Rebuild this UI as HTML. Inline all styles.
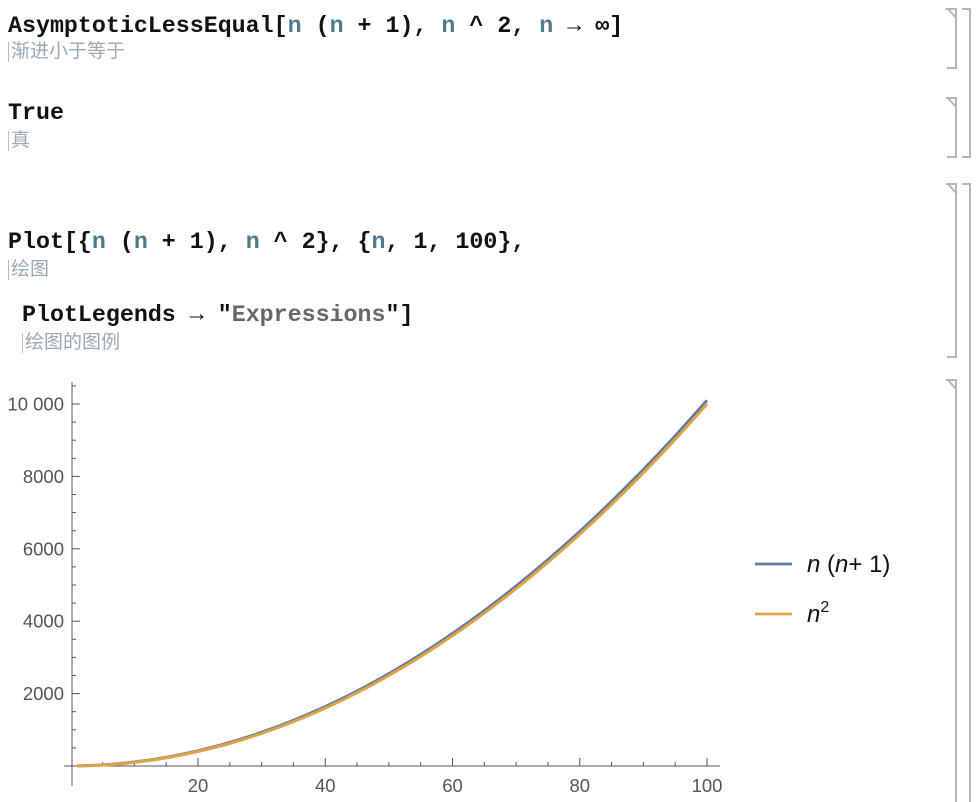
<!DOCTYPE html>
<html><head><meta charset="utf-8">
<style>
html,body{margin:0;padding:0;background:#fff;}
body{width:980px;height:802px;position:relative;overflow:hidden;font-family:"Liberation Sans","Noto Sans CJK SC",sans-serif;}
.code{position:absolute;font-family:"Liberation Mono","Noto Sans CJK SC",monospace;font-weight:bold;font-size:23.3px;color:#111;white-space:pre;letter-spacing:0px;}
.v{color:#4e7a8c;}
.s{color:#666;}
.ann{position:absolute;font-family:"Liberation Sans","Noto Sans CJK SC",sans-serif;font-size:19px;color:#9aa8b4;border-left:1px solid #bbb;padding-left:2px;line-height:20px;}
svg{position:absolute;left:0;top:0;}
</style></head><body>
<div class="code" style="left:8px;top:13px;">AsymptoticLessEqual[<span class="v">n</span> (<span class="v">n</span> + 1), <span class="v">n</span> ^ 2, <span class="v">n</span> → ∞]</div>
<div class="ann" style="left:8px;top:42px;">渐进小于等于</div>
<div class="code" style="left:8px;top:100px;">True</div>
<div class="ann" style="left:8px;top:131px;">真</div>
<div class="code" style="left:8px;top:229px;">Plot[{<span class="v">n</span> (<span class="v">n</span> + 1), <span class="v">n</span> ^ 2}, {<span class="v">n</span>, 1, 100},</div>
<div class="ann" style="left:8px;top:260px;">绘图</div>
<div class="code" style="left:22px;top:302px;">PlotLegends → "<span class="s">Expressions</span>"]</div>
<div class="ann" style="left:22px;top:333px;">绘图的图例</div>

<svg width="980" height="802" id="chart">
  <g id="brackets" stroke="#b5b5b5" stroke-width="2" fill="none">
    <path d="M946 9 L956 9 L956 68 L947 68 M948 9 L956 18"/>
    <path d="M946 98 L956 98 L956 157 L947 157 M948 98 L956 107"/>
    <path d="M962 9 L970 9 L970 157 L962 157"/>
    <path d="M946 184 L956 184 L956 357 L947 357 M948 184 L956 193"/>
    <path d="M962 184 L970 184 L970 802"/>
    <path d="M946 380 L956 380 L956 802 M948 380 L956 389"/>
  </g>
  <g id="axes"></g>
  <g id="series"></g>
  <g id="legend"></g>
</svg>
<script>
const categories = [1,5,10,15,20,25,30,35,40,45,50,55,60,65,70,75,80,85,90,95,100];
const seriesNN1 = [2,30,110,240,420,650,930,1260,1640,2070,2550,3080,3660,4290,4970,5700,6480,7310,8190,9120,10100];
const seriesN2 = [1,25,100,225,400,625,900,1225,1600,2025,2500,3025,3600,4225,4900,5625,6400,7225,8100,9025,10000];
const xTicks = [20,40,60,80,100];
const yTicks = [2000,4000,6000,8000,10000];
const yTickLabels = ["2000","4000","6000","8000","10 000"];

const NS="http://www.w3.org/2000/svg";
const x = v => 70.75 + v*6.3625;
const y = v => 766 - v*0.0362;
function mk(tag, attrs, parent){const e=document.createElementNS(NS,tag);for(const k in attrs)e.setAttribute(k,attrs[k]);parent.appendChild(e);return e;}
const axes=document.getElementById('axes');
const ax=mk('line',{x1:64,y1:766,x2:720,y2:766,stroke:'#555','stroke-width':1},axes);


const ay=mk('line',{x1:72,y1:382,x2:72,y2:786,stroke:'#555','stroke-width':1},axes);


for(let v=5;v<=100;v+=5){
  const major=xTicks.includes(v);
  const t=mk('line',{x1:x(v),x2:x(v),y1:766,y2:major?758:762,stroke:'#555','stroke-width':1},axes);
  
  
}
xTicks.forEach(v=>{
  const t=mk('text',{x:x(v),y:792,'text-anchor':'middle','font-size':18.5,fill:'#555','font-family':'Liberation Sans, sans-serif'},axes);
  t.textContent=v;
  
  
});
for(let v=500;v<=10500;v+=500){
  const major=yTicks.includes(v);
  const t=mk('line',{x1:72,x2:major?80:76,y1:y(v),y2:y(v),stroke:'#555','stroke-width':1},axes);
  
  
}
yTicks.forEach((v,i)=>{
  const t=mk('text',{x:64,y:y(v)+6.5,'text-anchor':'end','font-size':18.5,fill:'#555','font-family':'Liberation Sans, sans-serif'},axes);
  t.textContent=yTickLabels[i];
  
  
});
const series=document.getElementById('series');
function pathFor(vals){
  const p=categories.map((c,i)=>[x(c),y(vals[i])]);
  let d='M'+p[0][0]+' '+p[0][1];
  for(let i=0;i<p.length-1;i++){
    const p0=p[Math.max(0,i-1)],p1=p[i],p2=p[i+1],p3=p[Math.min(p.length-1,i+2)];
    d+=` C${p1[0]+(p2[0]-p0[0])/6} ${p1[1]+(p2[1]-p0[1])/6} ${p2[0]-(p3[0]-p1[0])/6} ${p2[1]-(p3[1]-p1[1])/6} ${p2[0]} ${p2[1]}`;
  }
  return d;
}
const l1=mk('path',{d:pathFor(seriesNN1),stroke:'#6179a8',fill:'none','stroke-width':3},series);


const l2=mk('path',{d:pathFor(seriesN2),stroke:'#dda446',fill:'none','stroke-width':3},series);



const lg=document.getElementById('legend');
const c1=mk('line',{x1:755,x2:792,y1:564,y2:564,stroke:'#6179a8','stroke-width':2.8},lg);


const c2=mk('line',{x1:755,x2:792,y1:614,y2:614,stroke:'#dda446','stroke-width':2.8},lg);


const t1=mk('text',{x:807,y:572,'font-size':24,fill:'#111','font-family':'Liberation Sans, sans-serif'},lg);
t1.innerHTML='<tspan font-style="italic">n</tspan> (<tspan font-style="italic">n</tspan>+ 1)';


const t2=mk('text',{x:807,y:622,'font-size':24,fill:'#111','font-family':'Liberation Sans, sans-serif'},lg);
t2.innerHTML='<tspan font-style="italic">n</tspan><tspan font-size="16" dy="-10">2</tspan>';


</script>
</body></html>
